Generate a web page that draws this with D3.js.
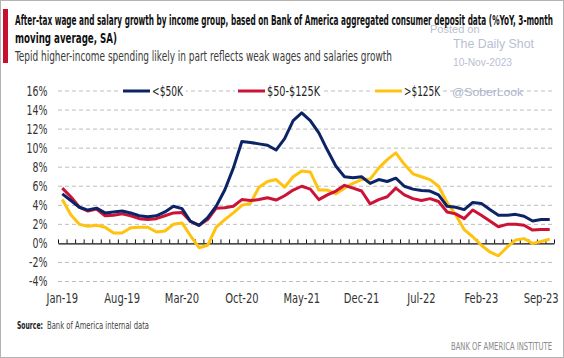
<!DOCTYPE html>
<html><head><meta charset="utf-8">
<script src="https://cdn.jsdelivr.net/npm/d3@7"></script>
<style>
html,body{margin:0;padding:0;background:#fff;}
svg{display:block;}
.nar{font-family:"Liberation Sans Narrow","DejaVu Sans Condensed","Roboto Condensed",sans-serif;}
</style>
</head><body>
<svg id="c" width="564" height="358"></svg>
<script>
const months = ["Jan-19","Feb-19","Mar-19","Apr-19","May-19","Jun-19","Jul-19","Aug-19","Sep-19","Oct-19","Nov-19","Dec-19",
"Jan-20","Feb-20","Mar-20","Apr-20","May-20","Jun-20","Jul-20","Aug-20","Sep-20","Oct-20","Nov-20","Dec-20",
"Jan-21","Feb-21","Mar-21","Apr-21","May-21","Jun-21","Jul-21","Aug-21","Sep-21","Oct-21","Nov-21","Dec-21",
"Jan-22","Feb-22","Mar-22","Apr-22","May-22","Jun-22","Jul-22","Aug-22","Sep-22","Oct-22","Nov-22","Dec-22",
"Jan-23","Feb-23","Mar-23","Apr-23","May-23","Jun-23","Jul-23","Aug-23","Sep-23","Oct-23"];
const under50 = [5.2,4.5,3.8,3.5,3.7,3.2,3.3,3.4,3.2,2.9,2.8,2.9,3.3,3.9,3.65,2.3,1.9,2.7,3.9,5.6,7.9,10.7,10.6,10.45,10.3,9.8,11.0,12.9,13.7,12.9,11.6,9.8,8.1,7.0,6.9,7.0,6.3,6.7,6.5,6.85,6.0,5.7,5.55,5.5,5.1,3.9,3.8,3.55,4.3,4.2,3.55,2.95,2.95,3.05,2.85,2.35,2.5,2.5];
const mid50to125 = [5.8,4.9,3.8,3.4,3.6,2.9,2.95,3.1,2.9,2.6,2.5,2.6,2.9,3.2,3.25,2.3,1.9,2.5,3.7,3.75,3.9,4.6,4.5,4.6,4.8,4.55,5.0,5.6,6.0,5.7,4.6,5.1,5.5,6.1,5.8,5.5,4.15,4.6,4.9,5.8,5.1,4.7,4.5,4.7,4.4,3.3,3.1,2.6,3.5,2.95,2.35,1.75,2.0,2.0,1.9,1.4,1.45,1.45];
const over125 = [4.6,3.0,2.0,1.8,1.9,1.7,1.1,1.1,1.65,1.7,1.7,1.2,1.3,2.0,2.15,0.8,-0.45,-0.2,1.7,2.5,3.2,4.0,4.2,5.9,6.5,6.7,5.9,7.0,7.6,7.5,5.6,5.6,5.2,5.8,6.3,6.7,6.75,7.9,8.8,9.5,8.3,7.3,7.0,6.7,6.0,4.3,3.0,1.45,0.7,-0.2,-0.9,-1.3,-0.4,0.35,0.5,0.0,0.2,0.45];
const seriesNames = ["<$50K","$50-$125K",">$125K"];
const seriesColors = ["#0c2466","#cc1236","#ffc20e"];
const xTickLabels = ["Jan-19","Aug-19","Mar-20","Oct-20","May-21","Dec-21","Jul-22","Feb-23","Sep-23"];
const yTicks = [-4,-2,0,2,4,6,8,10,12,14,16];

const svg = d3.select("#c");
const L = 58, R = 554, T = 91, B = 281.5;

// frame
svg.append("rect").attr("x",0.5).attr("y",0.5).attr("width",563).attr("height",357)
  .attr("fill","#fff").attr("stroke","#b4b4b4");
svg.append("rect").attr("x",3).attr("y",9).attr("width",5).attr("height",54).attr("fill","#c8102e");

// watermark (behind title)
const wm = "#b9c0d2";
svg.append("text").attr("x",430).attr("y",33).attr("fill",wm).attr("font-family","Liberation Sans, Arial, sans-serif").attr("font-size",11).text("Posted on");
svg.append("text").attr("x",453).attr("y",48).attr("fill",wm).attr("font-family","Liberation Sans, Arial, sans-serif").attr("font-size",12.5).attr("textLength",81).attr("lengthAdjust","spacingAndGlyphs").text("The Daily Shot");
svg.append("text").attr("x",453).attr("y",66).attr("fill",wm).attr("font-family","Liberation Sans, Arial, sans-serif").attr("font-size",10).attr("textLength",59).attr("lengthAdjust","spacingAndGlyphs").text("10-Nov-2023");

// titles
svg.append("text").attr("class","nar").attr("x",15).attr("y",25).attr("font-size",13.5).attr("font-weight","bold").attr("fill","#111")
  .attr("textLength",538).attr("lengthAdjust","spacingAndGlyphs")
  .text("After-tax wage and salary growth by income group, based on Bank of America aggregated consumer deposit data (%YoY, 3-month");
svg.append("text").attr("class","nar").attr("x",15).attr("y",43).attr("font-size",13.5).attr("font-weight","bold").attr("fill","#111")
  .attr("textLength",102).attr("lengthAdjust","spacingAndGlyphs").text("moving average, SA)");
svg.append("text").attr("class","nar").attr("x",15).attr("y",61).attr("font-size",13.5).attr("fill","#3a3a3a")
  .attr("textLength",377).attr("lengthAdjust","spacingAndGlyphs")
  .text("Tepid higher-income spending likely in part reflects weak wages and salaries growth");

// scales
const x = d3.scaleLinear().domain([-0.5, months.length-0.5]).range([L,R]);
const y = d3.scaleLinear().domain([-4,16]).range([B,T]);

// gridlines
svg.append("g").selectAll("line").data(yTicks.filter(d=>d!==0)).join("line")
  .attr("x1",L).attr("x2",R).attr("y1",d=>y(d)).attr("y2",d=>y(d))
  .attr("stroke","#bdbdbd").attr("stroke-width",1).attr("stroke-dasharray","4,3");

function squeeze(sel, refText, refWidth){
  let refNat = null;
  sel.each(function(){ if(this.textContent===refText) refNat=this.getComputedTextLength(); });
  const k = refNat ? refWidth/refNat : 1;
  sel.each(function(){
    const w = this.getComputedTextLength();
    d3.select(this).attr("textLength", w*k).attr("lengthAdjust","spacingAndGlyphs");
  });
}

// y labels
const yAx = svg.append("g").attr("class","nar").attr("transform",`translate(${L-10.5},0)`)
  .call(d3.axisLeft(y).tickValues(yTicks).tickSize(0).tickPadding(0).tickFormat(d=>d+"%"));
yAx.select(".domain").remove();
yAx.selectAll("text").attr("font-size",13.5).attr("fill","#333").attr("font-family",null);
squeeze(yAx.selectAll("text"), "16%", 21);

// x axis ticks at month boundaries (pointing up)
const bounds = d3.range(months.length+1).map(i=>i-0.5);
const xAx = svg.append("g").attr("transform",`translate(0,${y(0)})`)
  .call(d3.axisTop(x).tickValues(bounds).tickSize(4).tickSizeOuter(0).tickFormat(""));
xAx.select(".domain").attr("stroke","#111").attr("stroke-width",1.3);
xAx.selectAll(".tick line").attr("stroke","#111");

// x labels
const band = d3.scaleBand().domain(months).range([L,R]);
const xl = svg.append("g").attr("class","nar").attr("transform",`translate(0,${B+12})`)
  .call(d3.axisBottom(band).tickValues(xTickLabels).tickSize(0).tickPadding(0));
xl.select(".domain").remove();
xl.selectAll("text").attr("font-size",14).attr("fill","#333").attr("font-family",null);
squeeze(xl.selectAll("text"), "Jan-19", 31.6);

// lines
const all = [under50, mid50to125, over125];
const line = d3.line().x((d,i)=>x(i)).y(d=>y(d));
[2,1,0].forEach(k=>{
  svg.append("path").datum(all[k]).attr("d",line).attr("fill","none")
    .attr("stroke",seriesColors[k]).attr("stroke-width",3).attr("stroke-linejoin","round");
});

// legend
const leg = [{x:123,tw:31},{x:238,tw:53},{x:375,tw:36}];
leg.forEach((l,k)=>{
  const g = svg.append("g");
  g.append("rect").attr("x",l.x-3).attr("y",y(16)-7).attr("width",27+2+l.tw+6).attr("height",14).attr("fill","#fff");
  g.append("line").attr("x1",l.x).attr("x2",l.x+27).attr("y1",y(16)).attr("y2",y(16))
    .attr("stroke",seriesColors[k]).attr("stroke-width",3);
  g.append("text").attr("class","nar").attr("x",l.x+29).attr("y",y(16)+5).attr("font-size",13.5).attr("fill","#222")
    .attr("textLength",l.tw).attr("lengthAdjust","spacingAndGlyphs").text(seriesNames[k]);
});
svg.append("text").attr("x",452).attr("y",y(16)+4.5).attr("fill","#aab3c8").attr("font-family","Liberation Sans, Arial, sans-serif")
  .attr("font-size",11.5).attr("textLength",71).attr("lengthAdjust","spacingAndGlyphs").text("@SoberLook");

// source
svg.append("text").attr("class","nar").attr("x",17).attr("y",329).attr("font-size",10.5).attr("font-weight","bold").attr("fill","#222")
  .attr("textLength",26).attr("lengthAdjust","spacingAndGlyphs").text("Source:");
svg.append("text").attr("class","nar").attr("x",47).attr("y",329).attr("font-size",10.5).attr("fill","#444")
  .attr("textLength",102).attr("lengthAdjust","spacingAndGlyphs").text("Bank of America internal data");

svg.append("text").attr("class","nar").attr("x",451).attr("y",350).attr("font-size",10).attr("fill","#8a8a8a")
  .attr("textLength",101).attr("lengthAdjust","spacingAndGlyphs").text("BANK OF AMERICA INSTITUTE");
</script>
</body></html>
